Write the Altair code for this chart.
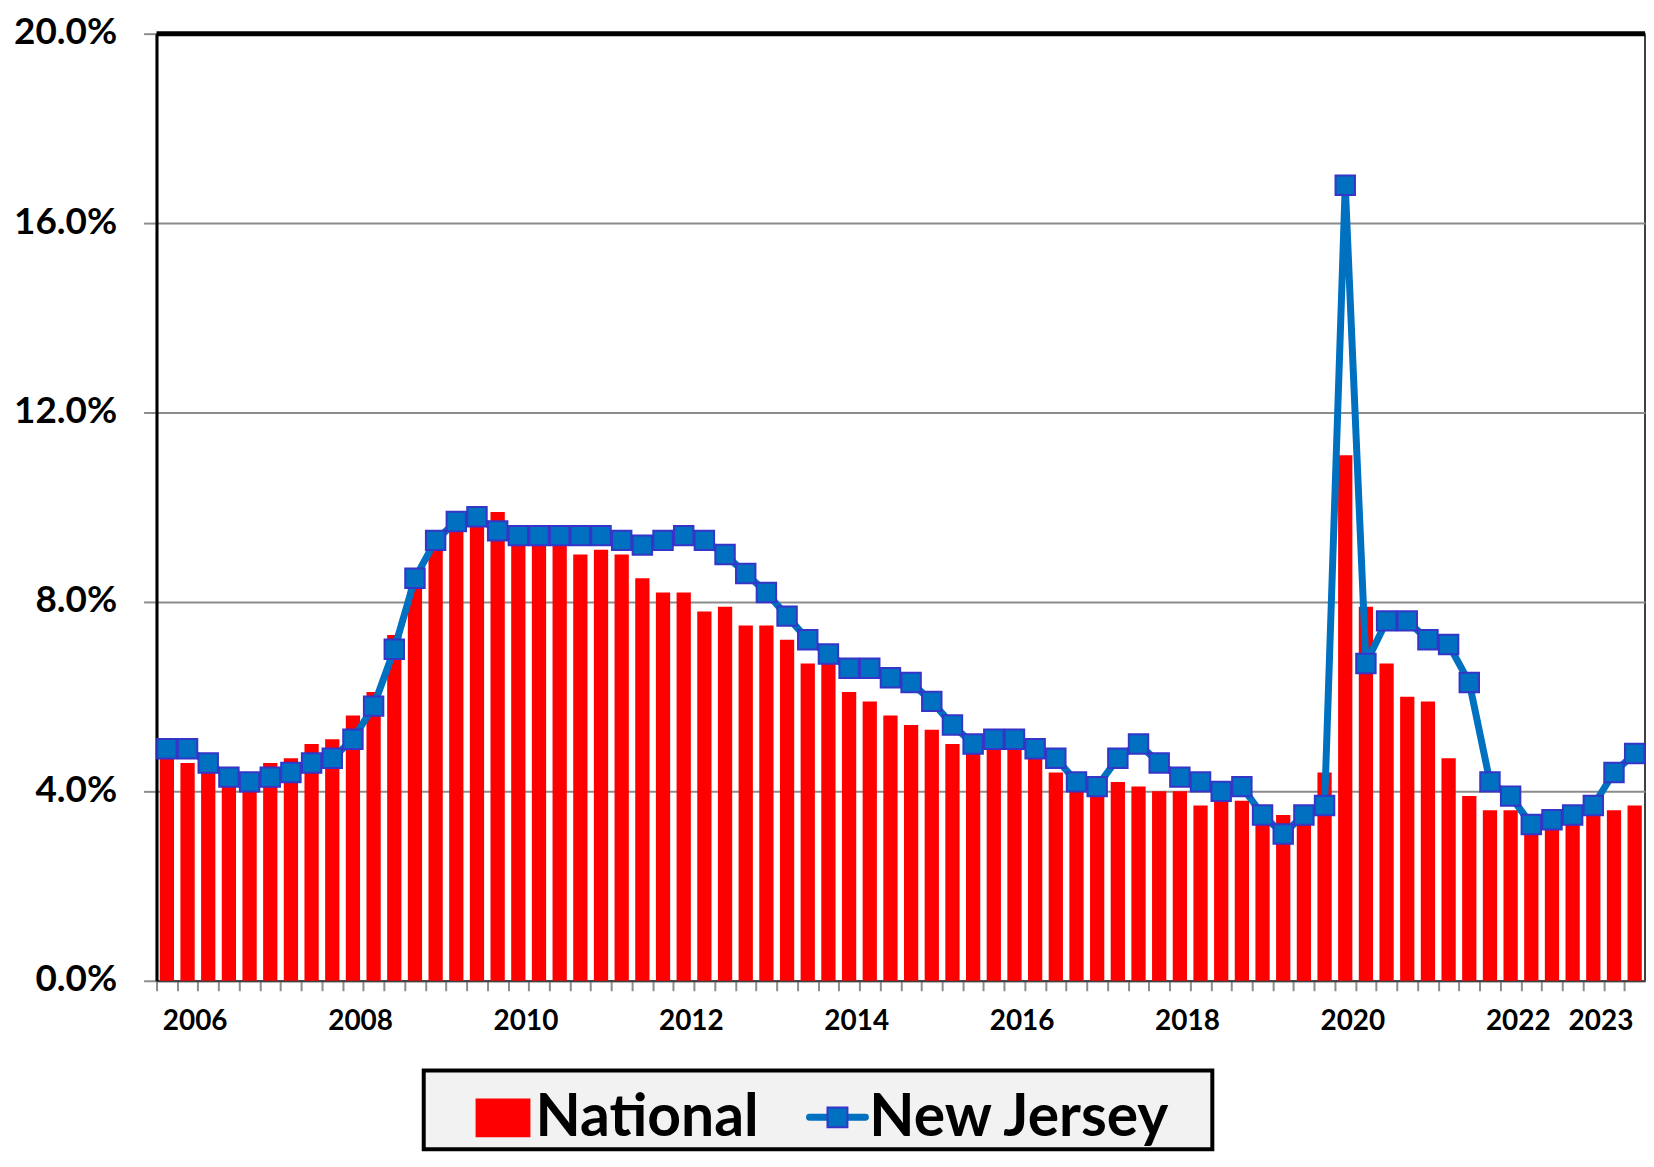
import altair as alt
import pandas as pd

# ---------------- data ----------------
years = list(range(2006, 2024))
quarters = [f"{y} Q{q}" for y in years for q in range(1, 5)]  # 72 quarters

national = [
    4.7, 4.6, 4.5, 4.4,   # 2006
    4.4, 4.6, 4.7, 5.0,   # 2007
    5.1, 5.6, 6.1, 7.3,   # 2008
    8.7, 9.5, 9.8, 9.9,   # 2009
    9.9, 9.4, 9.5, 9.3,   # 2010
    9.0, 9.1, 9.0, 8.5,   # 2011
    8.2, 8.2, 7.8, 7.9,   # 2012
    7.5, 7.5, 7.2, 6.7,   # 2013
    6.7, 6.1, 5.9, 5.6,   # 2014
    5.4, 5.3, 5.0, 5.0,   # 2015
    5.0, 4.9, 5.0, 4.4,   # 2016
    4.3, 4.2, 4.2, 4.1,   # 2017
    4.0, 4.0, 3.7, 3.9,   # 2018
    3.8, 3.6, 3.5, 3.6,   # 2019
    4.4, 11.1, 7.9, 6.7,  # 2020
    6.0, 5.9, 4.7, 3.9,   # 2021
    3.6, 3.6, 3.5, 3.5,   # 2022
    3.5, 3.6, 3.6, 3.7,   # 2023
]

new_jersey = [
    4.9, 4.9, 4.6, 4.3,   # 2006
    4.2, 4.3, 4.4, 4.6,   # 2007
    4.7, 5.1, 5.8, 7.0,   # 2008
    8.5, 9.3, 9.7, 9.8,   # 2009
    9.5, 9.4, 9.4, 9.4,   # 2010
    9.4, 9.4, 9.3, 9.2,   # 2011
    9.3, 9.4, 9.3, 9.0,   # 2012
    8.6, 8.2, 7.7, 7.2,   # 2013
    6.9, 6.6, 6.6, 6.4,   # 2014
    6.3, 5.9, 5.4, 5.0,   # 2015
    5.1, 5.1, 4.9, 4.7,   # 2016
    4.2, 4.1, 4.7, 5.0,   # 2017
    4.6, 4.3, 4.2, 4.0,   # 2018
    4.1, 3.5, 3.1, 3.5,   # 2019
    3.7, 16.8, 6.7, 7.6,  # 2020
    7.6, 7.2, 7.1, 6.3,   # 2021
    4.2, 3.9, 3.3, 3.4,   # 2022
    3.5, 3.7, 4.4, 4.8,   # 2023
]

tick_quarters = ["2006 Q2", "2008 Q2", "2010 Q2", "2012 Q2", "2014 Q2",
                 "2016 Q2", "2018 Q2", "2020 Q2", "2022 Q2", "2023 Q2"]
tick_labels = ["2006", "2008", "2010", "2012", "2014",
               "2016", "2018", "2020", "2022", "2023"]
y_ticks = [0, 4, 8, 12, 16, 20]

series_names = ["National", "New Jersey"]

df = pd.DataFrame({"quarter": quarters, "National": national, "New Jersey": new_jersey})

# ---------------- layout ----------------
W, H = 1493, 950
PAD_TOP = 24
FONT = "Lato"
STEP = W / len(quarters)
P_INNER = 0.31

x_scale = alt.Scale(paddingInner=P_INNER, paddingOuter=P_INNER / 2)
y_scale = alt.Scale(domain=[0, 20], nice=False)

q_arr = "[" + ",".join(f"'{q}'" for q in tick_quarters) + "]"
l_arr = "[" + ",".join(f"'{t}'" for t in tick_labels) + "]"
x_label_expr = f"indexof({q_arr}, datum.value) >= 0 ? {l_arr}[indexof({q_arr}, datum.value)] : ''"

x_axis = alt.Axis(
    title=None, bandPosition=0, tickOffset=-(P_INNER / 2) * STEP, labelOffset=STEP / 2,
    labelExpr=x_label_expr, labelAngle=0, labelOverlap=False, labelFlush=False,
    labelFont=FONT, labelFontWeight="bold", labelFontSize=28, labelColor="black",
    labelPadding=17, tickSize=10, tickColor="#8c8c8c", tickWidth=2,
    domainColor="#404040", domainWidth=2, grid=False,
)
y_axis = alt.Axis(
    title=None, values=y_ticks, labelExpr="format(datum.value, '.1f') + '%'",
    labelFont=FONT, labelFontWeight="bold", labelFontSize=37, labelColor="black",
    labelPadding=27, labelOffset=-1, tickSize=13, tickColor="#8c8c8c", tickWidth=2,
    domainColor="black", domainWidth=3, grid=True, gridColor="#8c8c8c", gridWidth=2,
)

X = alt.X("quarter:N", sort=quarters, scale=x_scale, axis=x_axis, title=None)

base = alt.Chart(df)

bars = base.mark_bar(color="#FF0000").encode(
    x=X,
    y=alt.Y("National:Q", scale=y_scale, axis=y_axis, title=None),
)

line = base.mark_line(color="#0070C0", strokeWidth=7).encode(
    x=X,
    y=alt.Y("New Jersey:Q", scale=y_scale, axis=y_axis, title=None),
)

points = base.mark_point(
    shape="square", filled=True, fill="#0070C0", stroke="#3535C8",
    strokeWidth=2, size=380, opacity=1,
).encode(
    x=X,
    y=alt.Y("New Jersey:Q", scale=y_scale, axis=y_axis, title=None),
)

top_border = alt.Chart(pd.DataFrame({"top": [20]})).mark_rule(
    color="black", strokeWidth=5
).encode(y=alt.Y("top:Q", scale=y_scale, axis=y_axis, title=None))

# ---------------- legend (drawn manually) ----------------
# chart coordinates = page coordinates - (8 + padding)
OY = 8 + PAD_TOP
one = pd.DataFrame({"k": [0]})
leg_df = pd.DataFrame({"name": series_names})

legend_box = alt.Chart(one).mark_rect(
    fill="#F2F2F2", stroke="black", strokeWidth=4
).encode(x=alt.value(268), x2=alt.value(1059), y=alt.value(1072 - OY), y2=alt.value(1151 - OY))

leg_red = alt.Chart(one).mark_rect(fill="#FF0000").encode(
    x=alt.value(320), x2=alt.value(375), y=alt.value(1100 - OY), y2=alt.value(1139 - OY)
)
leg_line = alt.Chart(one).mark_rule(color="#0070C0", strokeWidth=7, strokeCap="round").encode(
    x=alt.value(655), x2=alt.value(711), y=alt.value(1119 - OY)
)
leg_sq = alt.Chart(one).mark_point(
    shape="square", filled=True, fill="#0070C0", stroke="#3535C8",
    strokeWidth=2, size=400, opacity=1,
).encode(x=alt.value(683), y=alt.value(1119 - OY))

leg_text_nat = alt.Chart(leg_df).transform_filter(
    alt.datum.name == series_names[0]
).mark_text(
    align="left", baseline="alphabetic", font=FONT, fontWeight="bold", fontSize=59, color="black"
).encode(x=alt.value(380), y=alt.value(1138 - OY), text="name:N")

leg_text_nj = alt.Chart(leg_df).transform_filter(
    alt.datum.name == series_names[1]
).mark_text(
    align="left", baseline="alphabetic", font=FONT, fontWeight="bold", fontSize=59, color="black"
).encode(x=alt.value(715), y=alt.value(1138 - OY), text="name:N")

chart = alt.layer(
    bars, line, points, top_border,
    legend_box, leg_red, leg_line, leg_sq, leg_text_nat, leg_text_nj,
).properties(
    width=W, height=H,
    autosize=alt.AutoSizeParams(type="none"),
    padding={"left": 149, "top": PAD_TOP, "right": 1, "bottom": 1146 - PAD_TOP - H},
).configure_view(stroke="black", strokeWidth=1.5)

chart.save("out.html", embed_options={"renderer": "svg", "actions": False})
